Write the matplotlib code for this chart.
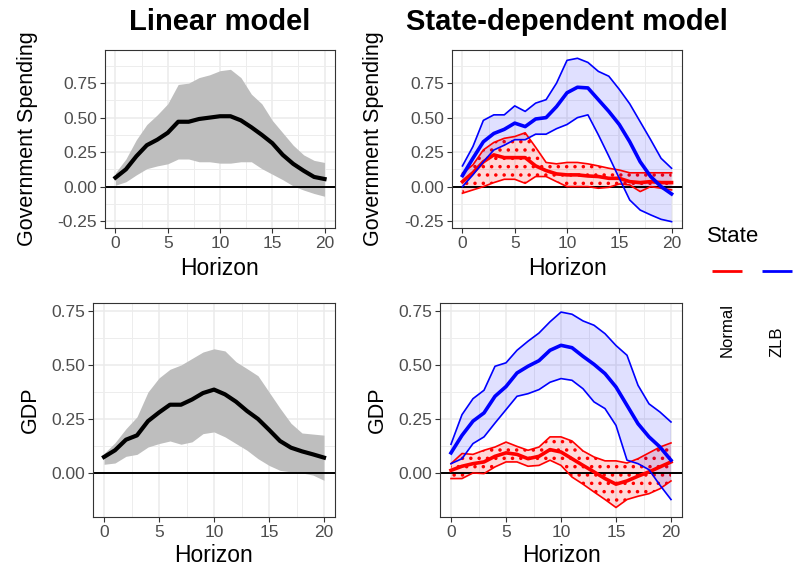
import matplotlib
matplotlib.use("Agg")
import matplotlib.pyplot as plt
import numpy as np

plt.rcParams['font.family'] = ['Liberation Sans', 'DejaVu Sans']
plt.rcParams['hatch.linewidth'] = 1.3

# horizon
horizon = list(range(21))

# linear model, government spending
lin_gs_mean = [0.065, 0.125, 0.22, 0.30, 0.34, 0.39, 0.47, 0.47, 0.49, 0.50, 0.51,
               0.51, 0.48, 0.43, 0.375, 0.315, 0.23, 0.165, 0.115, 0.07, 0.055]
lin_gs_hi = [0.10, 0.20, 0.34, 0.45, 0.52, 0.60, 0.74, 0.75, 0.79, 0.81, 0.84,
             0.85, 0.79, 0.67, 0.60, 0.48, 0.39, 0.30, 0.23, 0.19, 0.175]
lin_gs_lo = [0.01, 0.035, 0.085, 0.13, 0.15, 0.165, 0.20, 0.20, 0.18, 0.18, 0.17,
             0.17, 0.18, 0.18, 0.13, 0.09, 0.05, 0.005, -0.025, -0.05, -0.07]

# linear model, GDP
lin_gdp_mean = [0.074, 0.105, 0.154, 0.174, 0.24, 0.28, 0.316, 0.316, 0.34, 0.37, 0.386,
                0.364, 0.33, 0.287, 0.25, 0.20, 0.148, 0.117, 0.10, 0.086, 0.071]
lin_gdp_hi = [0.09, 0.14, 0.205, 0.26, 0.375, 0.44, 0.48, 0.50, 0.53, 0.56, 0.575,
              0.565, 0.515, 0.483, 0.45, 0.375, 0.30, 0.23, 0.185, 0.18, 0.175]
lin_gdp_lo = [0.04, 0.046, 0.077, 0.086, 0.12, 0.136, 0.148, 0.133, 0.144, 0.182, 0.19,
              0.167, 0.136, 0.105, 0.066, 0.035, 0.012, 0.005, 0.0, -0.01, -0.034]

# state-dependent, government spending
zlb_gs_mean = [0.08, 0.205, 0.325, 0.385, 0.415, 0.46, 0.435, 0.49, 0.50, 0.58, 0.68,
               0.72, 0.715, 0.63, 0.545, 0.45, 0.325, 0.18, 0.073, 0.0, -0.053]
zlb_gs_hi = [0.15, 0.29, 0.48, 0.52, 0.52, 0.585, 0.545, 0.605, 0.63, 0.75, 0.915,
             0.93, 0.90, 0.835, 0.80, 0.705, 0.60, 0.47, 0.34, 0.205, 0.133]
zlb_gs_lo = [0.0, 0.085, 0.18, 0.265, 0.30, 0.34, 0.34, 0.38, 0.38, 0.42, 0.45,
             0.50, 0.52, 0.375, 0.22, 0.06, -0.097, -0.17, -0.205, -0.237, -0.254]
nor_gs_mean = [0.036, 0.10, 0.18, 0.23, 0.21, 0.21, 0.21, 0.15, 0.116, 0.092, 0.085,
               0.085, 0.077, 0.073, 0.06, 0.06, 0.036, 0.029, 0.036, 0.029, 0.029]
nor_gs_hi = [0.097, 0.157, 0.266, 0.32, 0.35, 0.363, 0.39, 0.285, 0.175, 0.165, 0.175,
             0.175, 0.165, 0.15, 0.133, 0.12, 0.10, 0.10, 0.10, 0.10, 0.10]
nor_gs_lo = [-0.048, -0.024, 0.0, 0.029, 0.053, 0.053, 0.024, 0.073, 0.073, 0.036, 0.0,
             0.0, 0.0, -0.012, -0.005, 0.019, 0.012, -0.036, 0.0, -0.012, -0.024]

# state-dependent, GDP
zlb_gdp_mean = [0.093, 0.174, 0.24, 0.278, 0.355, 0.40, 0.463, 0.494, 0.52, 0.568, 0.591,
                0.58, 0.54, 0.503, 0.46, 0.398, 0.313, 0.228, 0.167, 0.12, 0.059]
zlb_gdp_hi = [0.133, 0.27, 0.344, 0.383, 0.494, 0.51, 0.568, 0.61, 0.648, 0.70, 0.745,
              0.735, 0.704, 0.684, 0.645, 0.59, 0.545, 0.406, 0.32, 0.282, 0.236]
zlb_gdp_lo = [0.043, 0.066, 0.136, 0.167, 0.231, 0.293, 0.355, 0.367, 0.386, 0.42, 0.437,
              0.429, 0.39, 0.329, 0.298, 0.22, 0.059, 0.043, 0.015, -0.057, -0.123]
nor_gdp_mean = [0.012, 0.031, 0.043, 0.051, 0.077, 0.093, 0.086, 0.066, 0.077, 0.108, 0.097,
                0.066, 0.035, 0.005, -0.026, -0.052, -0.037, -0.015, 0.005, 0.028, 0.051]
nor_gdp_hi = [0.043, 0.09, 0.086, 0.105, 0.12, 0.143, 0.123, 0.105, 0.12, 0.167, 0.167,
              0.148, 0.102, 0.074, 0.056, 0.056, 0.046, 0.066, 0.093, 0.12, 0.139]
nor_gdp_lo = [-0.026, -0.026, 0.0, -0.003, 0.028, 0.051, 0.051, 0.031, 0.035, 0.059, 0.035,
              -0.019, -0.052, -0.088, -0.123, -0.16, -0.123, -0.108, -0.096, -0.073, -0.037]

gs_ticks = [-0.25, 0.0, 0.25, 0.5, 0.75]
gdp_ticks = [0.0, 0.25, 0.5, 0.75]
x_ticks = [0, 5, 10, 15, 20]

W, H = 793, 567
fig = plt.figure(figsize=(W / 100, H / 100), dpi=100)


def px_axes(left, right, top, bottom):
    return fig.add_axes([left / W, 1 - bottom / H, (right - left) / W, (bottom - top) / H])


def style(ax, yticks, ylim, ylabel, ylab_x, xlab_y):
    ax.set_xlim(-1, 21)
    ax.set_ylim(*ylim)
    ax.set_xticks(x_ticks)
    ax.set_xticks([2.5, 7.5, 12.5, 17.5], minor=True)
    ax.set_yticks(yticks)
    ax.set_yticklabels([f"{t:.2f}" for t in yticks])
    ax.set_yticks([t + 0.125 for t in [-0.5] + yticks if ylim[0] < t + 0.125 < ylim[1]], minor=True)
    ax.grid(which='major', color='#EBEBEB', linewidth=1.1)
    ax.grid(which='minor', color='#EDEDED', linewidth=0.7)
    ax.set_axisbelow(True)
    for s in ax.spines.values():
        s.set_color('#333333')
        s.set_linewidth(0.8)
    ax.tick_params(which='major', direction='out', length=3.5, width=0.8, color='#333333',
                   labelcolor='#4D4D4D', labelsize=12.5, pad=2)
    ax.tick_params(which='minor', length=0)
    ax.axhline(0, color='black', linewidth=1.4, zorder=2)
    ax.set_ylabel(ylabel, fontsize=15.5, va='center')
    ax.yaxis.set_label_coords(ylab_x, 0.5)
    ax.set_xlabel('Horizon', fontsize=16.5, va='center')
    ax.xaxis.set_label_coords(0.5, xlab_y)


def linear(ax, mean, lo, hi):
    ax.fill_between(horizon, lo, hi, color='#BEBEBE', linewidth=0, zorder=1.5)
    ax.plot(horizon, mean, color='black', linewidth=3, zorder=3, solid_joinstyle='round')


def state(ax, zm, zl, zh, nm, nl, nh):
    ax.fill_between(horizon, nl, nh, facecolor='#FF0000', alpha=0.15, linewidth=0, zorder=1.5)
    ax.fill_between(horizon, nl, nh, facecolor='none', edgecolor='#FF0000', hatch='..',
                    linewidth=0, zorder=1.6)
    ax.fill_between(horizon, zl, zh, facecolor='#0000FF', alpha=0.12, linewidth=0, zorder=1.7)
    for y, lw in [(nl, 1.2), (nh, 1.2), (nm, 2.6)]:
        ax.plot(horizon, y, color='#FF0000', linewidth=lw, zorder=3)
    for y, lw in [(zl, 1.2), (zh, 1.2), (zm, 2.6)]:
        ax.plot(horizon, y, color='#0000FF', linewidth=lw, zorder=3.1)


ax1 = px_axes(105, 335, 50, 228)
linear(ax1, lin_gs_mean, lin_gs_lo, lin_gs_hi)
style(ax1, gs_ticks, (-0.30, 0.99), 'Government Spending', -0.335, -0.225)

ax2 = px_axes(452, 682, 50, 228)
state(ax2, zlb_gs_mean, zlb_gs_lo, zlb_gs_hi, nor_gs_mean, nor_gs_lo, nor_gs_hi)
style(ax2, gs_ticks, (-0.30, 0.99), 'Government Spending', -0.342, -0.225)

ax3 = px_axes(93, 335, 303, 517)
linear(ax3, lin_gdp_mean, lin_gdp_lo, lin_gdp_hi)
style(ax3, gdp_ticks, (-0.204, 0.787), 'GDP', -0.26, -0.178)

ax4 = px_axes(440, 682, 303, 517)
state(ax4, zlb_gdp_mean, zlb_gdp_lo, zlb_gdp_hi, nor_gdp_mean, nor_gdp_lo, nor_gdp_hi)
style(ax4, gdp_ticks, (-0.204, 0.787), 'GDP', -0.257, -0.178)

# panel titles
fig.text(220 / W, 1 - 22 / H, 'Linear model', ha='center', va='center',
         fontsize=21, fontweight='bold')
fig.text(567 / W, 1 - 22 / H, 'State-dependent model', ha='center', va='center',
         fontsize=21, fontweight='bold')

# legend
states = ['Normal', 'ZLB']
state_colors = ['#FF0000', '#0000FF']
leg = fig.add_axes([700 / W, 1 - 370 / H, 93 / W, 160 / H])
leg.set_xlim(0, 93)
leg.set_ylim(160, 0)
leg.axis('off')
leg.text(7, 27, 'State', fontsize=16, va='center', ha='left')
for i, (name, col) in enumerate(zip(states, state_colors)):
    cx = 27 + 50 * i
    leg.plot([cx - 15, cx + 15], [61, 61], color=col, linewidth=2, solid_capstyle='butt')
    leg.text(cx, 147, name, rotation=90, fontsize=12, ha='center', va='bottom')

fig.savefig('out.png', dpi=100)
